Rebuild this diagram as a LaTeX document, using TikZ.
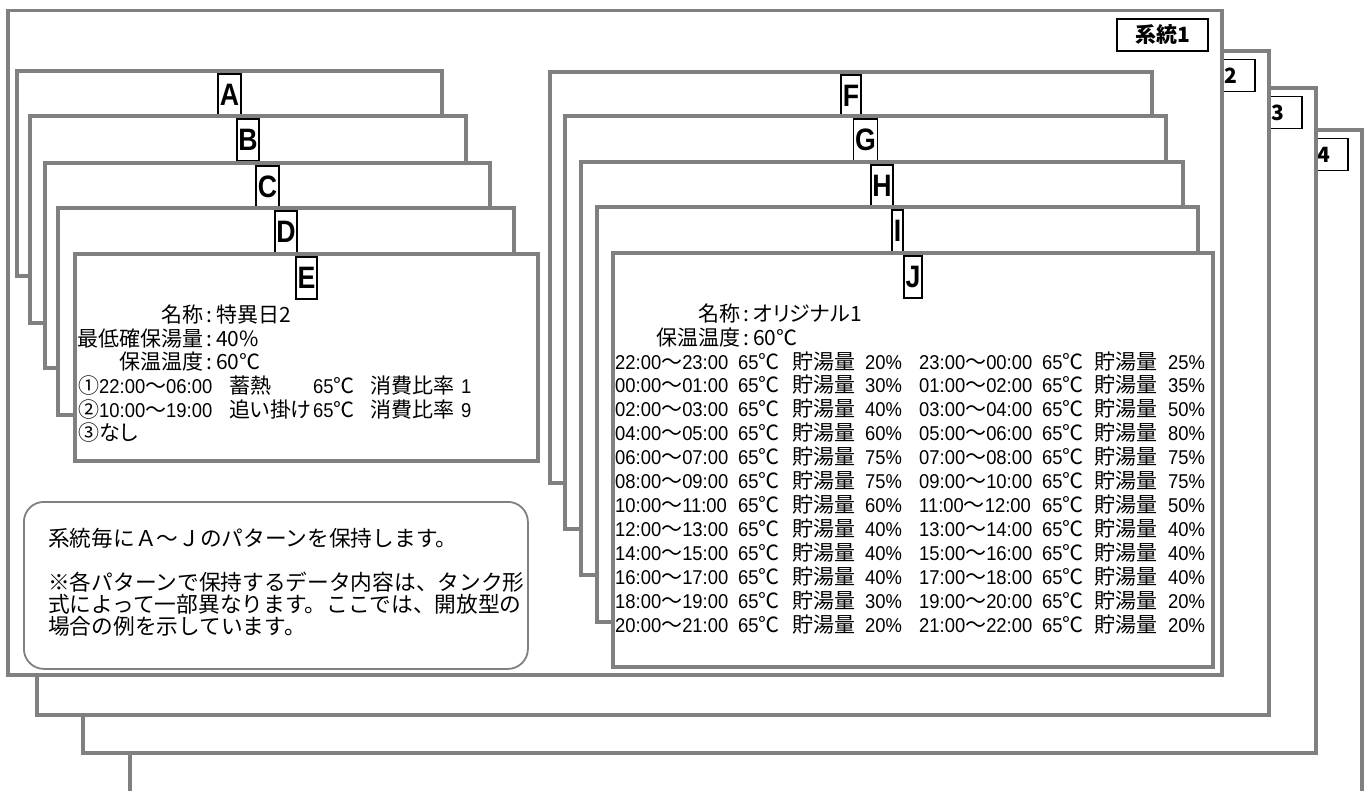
\documentclass[tikz,border=0pt]{standalone}
\usepackage{fontspec}
\setmainfont{Liberation Sans}
\newfontfamily\jp[RawFeature=+palt]{Noto Sans CJK JP}
\newfontfamily\jpm{Noto Sans CJK JP}
\newfontfamily\nar[FakeStretch=0.92]{Liberation Sans}
\newfontfamily\labf[FakeStretch=0.86]{Liberation Sans}
\definecolor{fgray}{RGB}{128,128,128}
\newcommand\Jf{\jp\fontsize{21}{25}\selectfont}
\newcommand\Jm{\jpm\fontsize{21}{25}\selectfont}
\newcommand\Nf{\nar\fontsize{20}{24}\selectfont}
\newcommand\tspan[2]{{\Nf #1}{\Jm ～}{\Nf #2}}
\newcommand\degc[1]{{\Nf #1}{\Jm ℃}}
\newcommand\jrow[8]{\node[txt] (#1) at (615,#2) {\makebox[123pt][l]{\tspan{#3}{#4}}\makebox[54pt][l]{\degc{65}}\makebox[73pt][l]{\Jf 貯湯量}\makebox[54pt][l]{\Nf #5\%}\makebox[123pt][l]{\tspan{#6}{#7}}\makebox[52pt][l]{\degc{65}}\makebox[74pt][l]{\Jf 貯湯量}{\Nf #8\%}};}
\newcommand\sysframe[6]{% name x1 y1 x2 y2 number
  \draw[frame] (#2,#3) coordinate (#1-nw) rectangle (#4,#5) coordinate (#1-se);
  \pgfmathsetmacro\sx{#4-59.5}\pgfmathsetmacro\sy{#3+24.5}
  \node[sysl] (#1-lab) at (\sx,\sy) {系統#6};}
\newcommand\pbox[6]{% name x1 y1 x2 y2 letter
  \draw[frame] (#2,#3) coordinate (#1-nw) rectangle (#4,#5) coordinate (#1-se);
  \pgfmathsetmacro\cx{(#2+#4)/2}\pgfmathsetmacro\cy{#3+2}
  \node[lab] (#1-lab) at (\cx,\cy) {\raisebox{-2.5pt}{#6}};}
\begin{document}
\begin{tikzpicture}[x=1pt,y=-1pt,
  frame/.style={draw=fgray, line width=3.2pt, fill=white},
  lab/.style={draw=black, line width=1.7pt, fill=white, inner xsep=1.6pt, inner ysep=0pt,
    minimum height=42pt, anchor=north, font=\labf\bfseries\fontsize{31}{31}\selectfont},
  sysl/.style={draw=black, line width=1.7pt, fill=white, minimum width=91pt, minimum height=32pt,
    inner sep=0pt, font=\jp\bfseries\fontsize{21}{21}\selectfont},
  notebox/.style={draw=fgray, line width=1.8pt, fill=white, rounded corners=20pt,
    anchor=north west, inner sep=0pt},
  txt/.style={anchor=base west, inner sep=0pt, font=\Jf}]
\useasboundingbox (0,0) rectangle (1370,790);
\fill[white] (0,0) rectangle (1370,790);
\clip (0,0) rectangle (1370,790);
% system frames, back to front
\sysframe{s4}{130}{130}{1362}{800}{4}
\sysframe{s3}{83}{88}{1316}{753}{3}
\sysframe{s2}{37}{51}{1269}{715}{2}
\sysframe{s1}{8}{10.5}{1222}{675}{1}
% left stack
\pbox{A}{17}{71}{442}{276}{A}
\pbox{B}{30}{116}{466}{323}{B}
\pbox{C}{45}{163}{490}{368}{C}
\pbox{D}{58}{208}{514}{415}{D}
\pbox{E}{75}{254}{538}{461}{E}
% right stack
\pbox{F}{550}{72}{1152}{483}{F}
\pbox{G}{565}{116}{1166}{529}{G}
\pbox{H}{581}{162}{1183}{575}{H}
\pbox{I}{597}{207}{1198}{622}{I}
\pbox{J}{613}{253}{1213}{667}{J}
% E contents
\node[txt] (e1) at (78,322.5) {\makebox[125pt][r]{名称}\makebox[13pt]{:}特異日2};
\node[txt] (e2) at (78,346) {\makebox[125pt][r]{最低確保湯量}\makebox[13pt]{:}40\%};
\node[txt] (e3) at (78,369.5) {\makebox[125pt][r]{保温温度}\makebox[13pt]{:}60℃};
\node[txt] (e4) at (78,393.5) {\makebox[21pt][l]{\Jm ①}\makebox[130pt][l]{\tspan{22:00}{06:00}}\makebox[84pt][l]{蓄熱}\makebox[57pt][l]{\degc{65}}\makebox[91pt][l]{消費比率}{\Nf 1}};
\node[txt] (e5) at (78,417) {\makebox[21pt][l]{\Jm ②}\makebox[130pt][l]{\tspan{10:00}{19:00}}\makebox[84pt][l]{追い掛け}\makebox[57pt][l]{\degc{65}}\makebox[91pt][l]{消費比率}{\Nf 9}};
\node[txt] (e6) at (78,440.5) {\makebox[21pt][l]{\Jm ③}なし};
% J contents
\node[txt] (j1) at (615,321) {\makebox[125pt][r]{名称}\makebox[13pt]{:}オリジナル1};
\node[txt] (j2) at (615,345) {\makebox[125pt][r]{保温温度}\makebox[13pt]{:}60℃};
\jrow{r0}{369}{22:00}{23:00}{20}{23:00}{00:00}{25}
\jrow{r1}{392.96}{00:00}{01:00}{30}{01:00}{02:00}{35}
\jrow{r2}{416.92}{02:00}{03:00}{40}{03:00}{04:00}{50}
\jrow{r3}{440.88}{04:00}{05:00}{60}{05:00}{06:00}{80}
\jrow{r4}{464.84}{06:00}{07:00}{75}{07:00}{08:00}{75}
\jrow{r5}{488.8}{08:00}{09:00}{75}{09:00}{10:00}{75}
\jrow{r6}{512.76}{10:00}{11:00}{60}{11:00}{12:00}{50}
\jrow{r7}{536.72}{12:00}{13:00}{40}{13:00}{14:00}{40}
\jrow{r8}{560.68}{14:00}{15:00}{40}{15:00}{16:00}{40}
\jrow{r9}{584.64}{16:00}{17:00}{40}{17:00}{18:00}{40}
\jrow{r10}{608.6}{18:00}{19:00}{30}{19:00}{20:00}{20}
\jrow{r11}{632.56}{20:00}{21:00}{20}{21:00}{22:00}{20}
% note
\node[notebox, minimum width=504pt, minimum height=167pt] (note) at (23,501) {};
\begin{scope}[every node/.style={anchor=base west, inner sep=0pt, font=\jpm\fontsize{21.7}{26}\selectfont}]
\node (n1) at (48,546) {系統毎にＡ～Ｊのパターンを保持します。};
\node (n2) at (48,590) {※各パターンで保持するデータ内容は、タンク形};
\node (n3) at (48,612) {式によって一部異なります。ここでは、開放型の};
\node (n4) at (48,634) {場合の例を示しています。};
\end{scope}
\end{tikzpicture}
\end{document}
